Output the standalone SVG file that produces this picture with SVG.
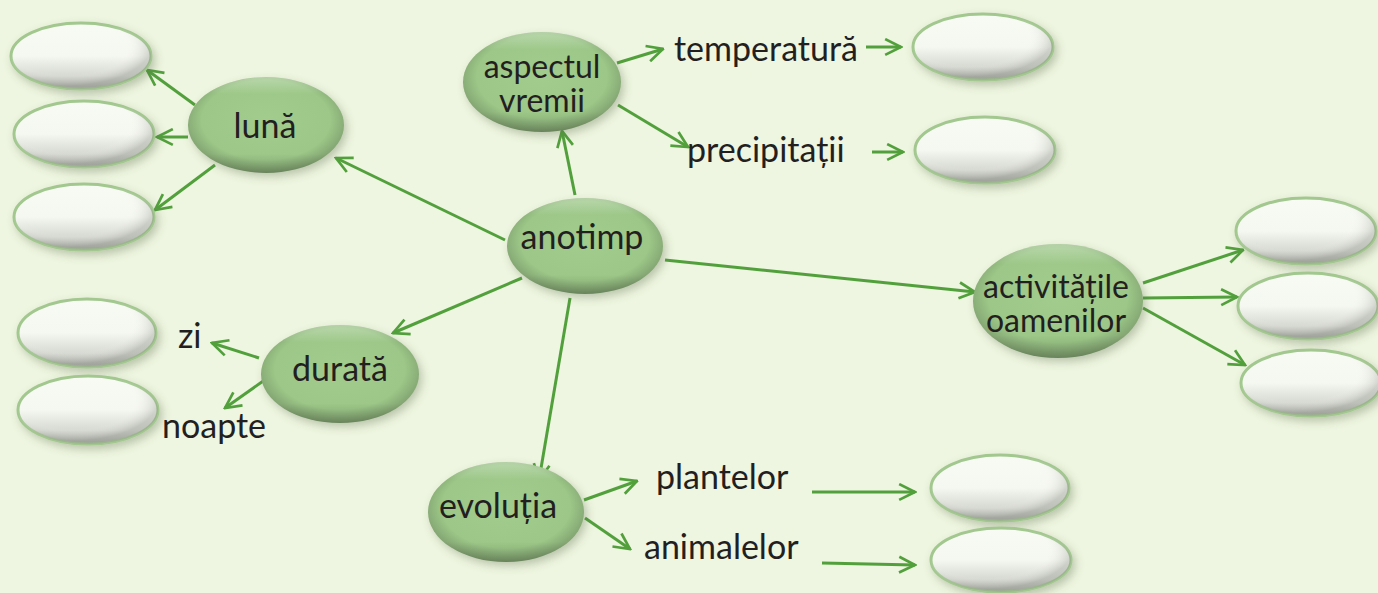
<svg xmlns="http://www.w3.org/2000/svg" width="1378" height="593" viewBox="0 0 1378 593">
<defs>
<style>
.bg{fill:#eef5e0}
.g{fill:url(#gFill);filter:url(#sh)}
.gov{fill:url(#gOver)}
.w{fill:url(#wFill);stroke:#a2c88f;stroke-width:3;filter:url(#sh)}
.wov{fill:url(#wOver)}
text{font-family:Lato,"Liberation Sans",sans-serif;fill:#231f20}
.t{font-size:34px}
.t2{font-size:32px}
.c line{stroke:#52a03c;stroke-width:3;fill:none;marker-end:url(#ah)}
</style>
<radialGradient id="gFill" cx="50%" cy="45%" r="55%">
<stop offset="0" stop-color="#a2cc8d"/>
<stop offset="0.75" stop-color="#9cc788"/>
<stop offset="1" stop-color="#7f9f6e"/>
</radialGradient>
<linearGradient id="gOver" x1="0" y1="0" x2="0" y2="1">
<stop offset="0" stop-color="#ffffff" stop-opacity="0.3"/>
<stop offset="0.18" stop-color="#ffffff" stop-opacity="0"/>
<stop offset="0.8" stop-color="#000000" stop-opacity="0"/>
<stop offset="1" stop-color="#000000" stop-opacity="0.18"/>
</linearGradient>
<linearGradient id="wFill" x1="0" y1="0" x2="0" y2="1">
<stop offset="0" stop-color="#f8fbf4"/>
<stop offset="0.5" stop-color="#f5f8f0"/>
<stop offset="0.8" stop-color="#d6d9d1"/>
<stop offset="1" stop-color="#a3a69f"/>
</linearGradient>
<radialGradient id="wOver" cx="40%" cy="35%" r="60%">
<stop offset="0.7" stop-color="#ffffff" stop-opacity="0"/>
<stop offset="1" stop-color="#8f928b" stop-opacity="0.35"/>
</radialGradient>
<filter id="sh" x="-20%" y="-20%" width="140%" height="150%">
<feDropShadow dx="3" dy="4" stdDeviation="4" flood-color="#5a6b4a" flood-opacity="0.35"/>
</filter>
<marker id="ah" viewBox="0 0 12 12" refX="11" refY="6" markerWidth="19" markerHeight="19" markerUnits="userSpaceOnUse" orient="auto">
<path d="M1,1 L11,6 L1,11" fill="none" stroke="#52a03c" stroke-width="1.7"/>
</marker>
</defs>
<rect class="bg" width="1378" height="593"/>

<g id="connectors" class="c">
<line x1="505" y1="240" x2="336" y2="158"/>
<line x1="195" y1="105" x2="147" y2="70"/>
<line x1="188" y1="137" x2="157" y2="137"/>
<line x1="215" y1="165" x2="155" y2="210"/>
<line x1="575" y1="195" x2="562" y2="131"/>
<line x1="617" y1="63" x2="663" y2="49"/>
<line x1="866" y1="47" x2="901" y2="47"/>
<line x1="618" y1="105" x2="688" y2="147"/>
<line x1="872" y1="152" x2="903" y2="152"/>
<line x1="665" y1="260" x2="975" y2="292"/>
<line x1="1143" y1="283" x2="1243" y2="250"/>
<line x1="1143" y1="298" x2="1237" y2="297"/>
<line x1="1143" y1="308" x2="1245" y2="365"/>
<line x1="522" y1="278" x2="393" y2="333"/>
<line x1="259" y1="358" x2="212" y2="343"/>
<line x1="266" y1="379" x2="225" y2="408"/>
<line x1="570" y1="298" x2="539" y2="480"/>
<line x1="584" y1="500" x2="637" y2="481"/>
<line x1="585" y1="518" x2="630" y2="549"/>
<line x1="812" y1="492" x2="915" y2="492"/>
<line x1="822" y1="563" x2="915" y2="565"/>
</g>

<g id="luna-empty-1"><ellipse class="w" cx="81" cy="56" rx="70" ry="33"/><ellipse class="wov" cx="81" cy="56" rx="70" ry="33"/></g>
<g id="luna-empty-2"><ellipse class="w" cx="84" cy="134" rx="70" ry="33"/><ellipse class="wov" cx="84" cy="134" rx="70" ry="33"/></g>
<g id="luna-empty-3"><ellipse class="w" cx="84" cy="217" rx="70" ry="33"/><ellipse class="wov" cx="84" cy="217" rx="70" ry="33"/></g>
<g id="zi-empty"><ellipse class="w" cx="87" cy="333" rx="69" ry="34"/><ellipse class="wov" cx="87" cy="333" rx="69" ry="34"/></g>
<g id="noapte-empty"><ellipse class="w" cx="88" cy="410" rx="70" ry="34"/><ellipse class="wov" cx="88" cy="410" rx="70" ry="34"/></g>
<g id="temperatura-empty"><ellipse class="w" cx="983" cy="47" rx="70" ry="33"/><ellipse class="wov" cx="983" cy="47" rx="70" ry="33"/></g>
<g id="precipitatii-empty"><ellipse class="w" cx="985" cy="150" rx="70" ry="33"/><ellipse class="wov" cx="985" cy="150" rx="70" ry="33"/></g>
<g id="activitati-empty-1"><ellipse class="w" cx="1306" cy="231" rx="70" ry="33"/><ellipse class="wov" cx="1306" cy="231" rx="70" ry="33"/></g>
<g id="activitati-empty-2"><ellipse class="w" cx="1308" cy="306" rx="70" ry="33"/><ellipse class="wov" cx="1308" cy="306" rx="70" ry="33"/></g>
<g id="activitati-empty-3"><ellipse class="w" cx="1311" cy="383" rx="70" ry="33"/><ellipse class="wov" cx="1311" cy="383" rx="70" ry="33"/></g>
<g id="plantelor-empty"><ellipse class="w" cx="1000" cy="488" rx="69" ry="33"/><ellipse class="wov" cx="1000" cy="488" rx="69" ry="33"/></g>
<g id="animalelor-empty"><ellipse class="w" cx="1001" cy="560" rx="70" ry="32"/><ellipse class="wov" cx="1001" cy="560" rx="70" ry="32"/></g>

<g id="luna"><ellipse class="g" cx="266" cy="125" rx="78" ry="48"/><ellipse class="gov" cx="266" cy="125" rx="78" ry="48"/><text class="t" x="265" y="138" text-anchor="middle">lună</text></g>
<g id="aspectul-vremii"><ellipse class="g" cx="542" cy="82" rx="79" ry="50"/><ellipse class="gov" cx="542" cy="82" rx="79" ry="50"/><text class="t2" x="542" y="78" text-anchor="middle">aspectul</text><text class="t2" x="542" y="112" text-anchor="middle">vremii</text></g>
<g id="anotimp"><ellipse class="g" cx="585" cy="246" rx="78" ry="48"/><ellipse class="gov" cx="585" cy="246" rx="78" ry="48"/><text class="t" x="582" y="249" text-anchor="middle">anotimp</text></g>
<g id="activitatile-oamenilor"><ellipse class="g" cx="1058" cy="301" rx="85" ry="57"/><ellipse class="gov" cx="1058" cy="301" rx="85" ry="57"/><text class="t2" x="1056" y="298" text-anchor="middle">activitățile</text><text class="t2" x="1056" y="332" text-anchor="middle">oamenilor</text></g>
<g id="durata"><ellipse class="g" cx="340" cy="374" rx="79" ry="49"/><ellipse class="gov" cx="340" cy="374" rx="79" ry="49"/><text class="t" x="340" y="381" text-anchor="middle">durată</text></g>
<g id="evolutia"><ellipse class="g" cx="506" cy="512" rx="78" ry="50"/><ellipse class="gov" cx="506" cy="512" rx="78" ry="50"/><text class="t" x="498" y="518" text-anchor="middle">evoluția</text></g>

<g id="temperatura"><text class="t" x="674" y="61">temperatură</text></g>
<g id="precipitatii"><text class="t" x="687" y="162">precipitații</text></g>
<g id="zi"><text class="t" x="178" y="348">zi</text></g>
<g id="noapte"><text class="t" x="162" y="438">noapte</text></g>
<g id="plantelor"><text class="t" x="656" y="489">plantelor</text></g>
<g id="animalelor"><text class="t" x="644" y="559">animalelor</text></g>
</svg>
